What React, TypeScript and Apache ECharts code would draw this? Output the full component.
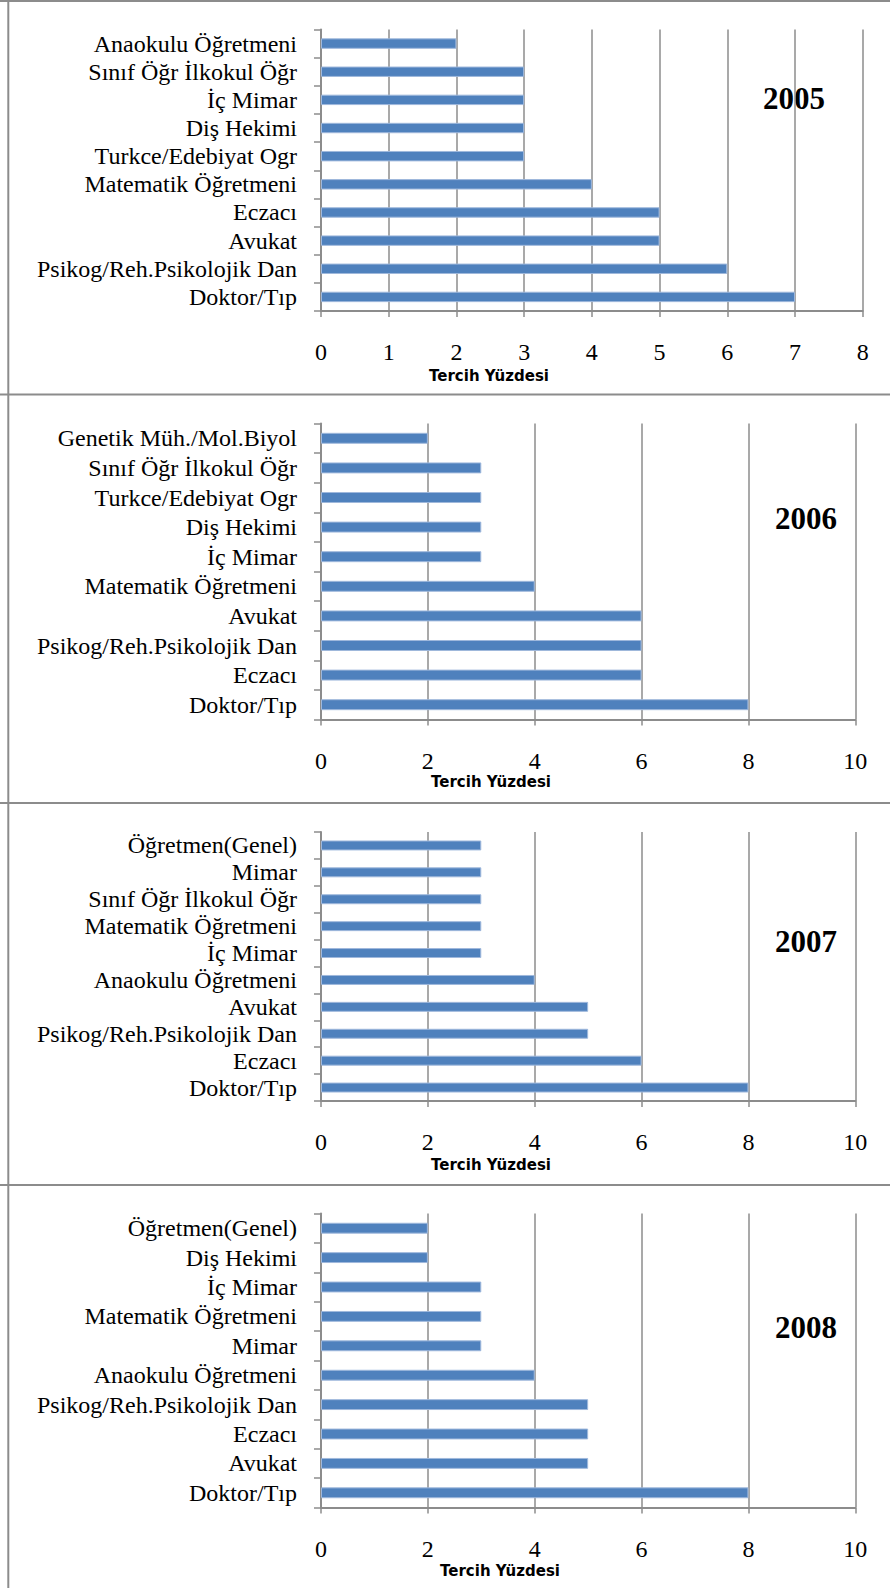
import React, { useEffect, useRef } from "react";
import * as echarts from "echarts";

// Most preferred professions by year, top of the list first (percent of choices)
const years = ["2005", "2006", "2007", "2008"];

const categories2005 = [
  "Anaokulu Öğretmeni",
  "Sınıf Öğr İlkokul Öğr",
  "İç Mimar",
  "Diş Hekimi",
  "Turkce/Edebiyat Ogr",
  "Matematik Öğretmeni",
  "Eczacı",
  "Avukat",
  "Psikog/Reh.Psikolojik Dan",
  "Doktor/Tıp",
];
const values2005 = [2, 3, 3, 3, 3, 4, 5, 5, 6, 7];

const categories2006 = [
  "Genetik Müh./Mol.Biyol",
  "Sınıf Öğr İlkokul Öğr",
  "Turkce/Edebiyat Ogr",
  "Diş Hekimi",
  "İç Mimar",
  "Matematik Öğretmeni",
  "Avukat",
  "Psikog/Reh.Psikolojik Dan",
  "Eczacı",
  "Doktor/Tıp",
];
const values2006 = [2, 3, 3, 3, 3, 4, 6, 6, 6, 8];

const categories2007 = [
  "Öğretmen(Genel)",
  "Mimar",
  "Sınıf Öğr İlkokul Öğr",
  "Matematik Öğretmeni",
  "İç Mimar",
  "Anaokulu Öğretmeni",
  "Avukat",
  "Psikog/Reh.Psikolojik Dan",
  "Eczacı",
  "Doktor/Tıp",
];
const values2007 = [3, 3, 3, 3, 3, 4, 5, 5, 6, 8];

const categories2008 = [
  "Öğretmen(Genel)",
  "Diş Hekimi",
  "İç Mimar",
  "Matematik Öğretmeni",
  "Mimar",
  "Anaokulu Öğretmeni",
  "Psikog/Reh.Psikolojik Dan",
  "Eczacı",
  "Avukat",
  "Doktor/Tıp",
];
const values2008 = [2, 2, 3, 3, 3, 4, 5, 5, 5, 8];

const axisMax = [8, 10, 10, 10];
const axisStep = [1, 2, 2, 2];
const axisTitle = "Tercih Yüzdesi";

const allCategories = [categories2005, categories2006, categories2007, categories2008];
const allValues = [values2005, values2006, values2007, values2008];

// Layout of the four stacked panels
const panelGrids = [
  { left: 321, top: 29.5, width: 541.7, height: 281.5 },
  { left: 321, top: 423.5, width: 534.3, height: 296 },
  { left: 321, top: 832, width: 534.3, height: 269 },
  { left: 321, top: 1213.5, width: 534.3, height: 294 },
];
const yearLabelPos = [
  [794, 98],
  [806, 518],
  [806, 941],
  [806, 1327],
];
const axisTitlePos = [
  [489, 376],
  [491, 782],
  [491, 1165],
  [500, 1571],
];
const dividerY = [1, 394.5, 803, 1185];

const GRAY = "#8c8c8c";
const SERIF = "Liberation Serif";

export default function App() {
  const ref = useRef<HTMLDivElement>(null);

  useEffect(() => {
    if (!ref.current) return;
    const chart = echarts.init(ref.current, undefined, { renderer: "svg" });

    const graphics: any[] = [];
    // panel frame: top edge, separators and left edge
    dividerY.forEach((y) => {
      graphics.push({
        type: "line",
        shape: { x1: 0, y1: y, x2: 890, y2: y },
        style: { stroke: GRAY, lineWidth: 2 },
        silent: true,
      });
    });
    graphics.push({
      type: "line",
      shape: { x1: 8.3, y1: 0, x2: 8.3, y2: 1588 },
      style: { stroke: GRAY, lineWidth: 2 },
      silent: true,
    });
    years.forEach((yr, i) => {
      graphics.push({
        type: "text",
        x: yearLabelPos[i][0],
        y: yearLabelPos[i][1],
        style: {
          text: yr,
          fontSize: 31,
          fontWeight: "bold",
          fontFamily: SERIF,
          fill: "#000",
          align: "center",
          verticalAlign: "middle",
        },
        silent: true,
      });
      graphics.push({
        type: "text",
        x: axisTitlePos[i][0],
        y: axisTitlePos[i][1],
        style: {
          text: axisTitle,
          fontSize: 15,
          fontWeight: "bold",
          fontFamily: "DejaVu Sans",
          fill: "#000",
          align: "center",
          verticalAlign: "middle",
        },
        silent: true,
      });
    });

    const option: any = {
      animation: false,
      backgroundColor: "#fff",
      textStyle: { fontFamily: SERIF },
      grid: panelGrids.map((g) => ({ ...g, containLabel: false, outerBoundsMode: "none" })),
      xAxis: panelGrids.map((_, i) => ({
        gridIndex: i,
        type: "value",
        min: 0,
        max: axisMax[i],
        interval: axisStep[i],
        axisLine: { show: true, lineStyle: { color: GRAY, width: 2 } },
        axisTick: { show: true, length: 6, lineStyle: { color: GRAY, width: 1.5 } },
        axisLabel: {
          margin: 29,
          fontSize: 24,
          fontFamily: SERIF,
          color: "#000",
        },
        splitLine: { show: true, lineStyle: { color: GRAY, width: 1.5 } },
      })),
      yAxis: panelGrids.map((_, i) => ({
        gridIndex: i,
        type: "category",
        data: allCategories[i],
        inverse: true,
        axisLine: { show: true, lineStyle: { color: GRAY, width: 2 } },
        axisTick: { show: true, length: 7, lineStyle: { color: GRAY, width: 1.5 } },
        axisLabel: {
          margin: 24,
          interval: 0,
          fontSize: 24,
          fontFamily: SERIF,
          color: "#000",
        },
        splitLine: { show: false },
      })),
      series: panelGrids.map((_, i) => ({
        type: "bar",
        xAxisIndex: i,
        yAxisIndex: i,
        data: allValues[i],
        barWidth: "37%",
        itemStyle: { color: "#4f81bd", borderColor: "#9fb8dc", borderWidth: 1 },
        silent: true,
      })),
      graphic: graphics,
    };

    chart.setOption(option);
    return () => chart.dispose();
  }, []);

  return (
    <div
      ref={ref}
      style={{ position: "absolute", left: 0, top: 0, width: 890, height: 1588, overflow: "hidden" }}
    />
  );
}
